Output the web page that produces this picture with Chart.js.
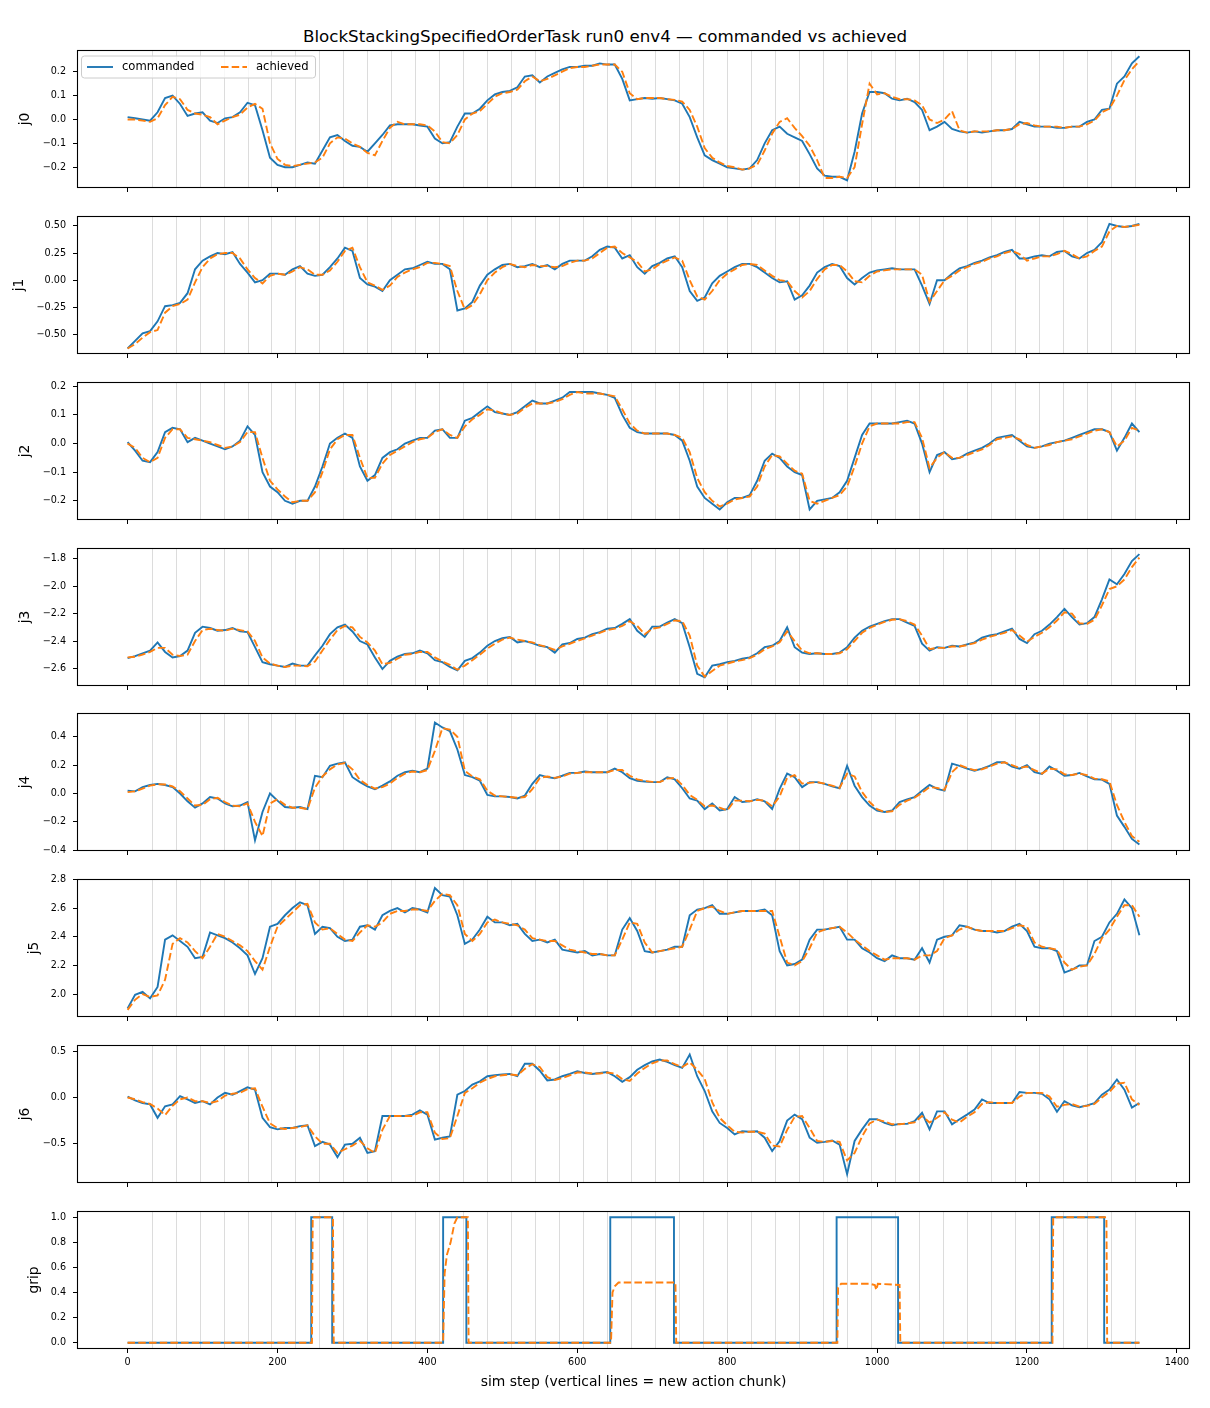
<!DOCTYPE html>
<html>
<head>
<meta charset="utf-8">
<script src="https://cdn.jsdelivr.net/npm/chart.js@4.4.1/dist/chart.umd.min.js"></script>
<style>
body { margin: 0; background: #fff; }
#fig { position: relative; width: 1210px; height: 1408px; background: #fff; font-family: "DejaVu Sans", sans-serif; }
#title { position: absolute; left: 0; top: 25px; width: 1210px; text-align: center; font-size: 16.7px; line-height: 22px; color: #000; }
.panel { position: absolute; left: 0; }
</style>
</head>
<body>
<div id="fig">
  <div id="title">BlockStackingSpecifiedOrderTask run0 env4 — commanded vs achieved</div>
</div>
<script>
// sim steps sampled every 10
var steps = [0,10,20,30,40,50,60,70,80,90,100,110,120,130,140,150,160,170,180,190,
  200,210,220,230,240,250,260,270,280,290,300,310,320,330,340,350,360,370,380,390,
  400,410,420,430,440,450,460,470,480,490,500,510,520,530,540,550,560,570,580,590,
  600,610,620,630,640,650,660,670,680,690,700,710,720,730,740,750,760,770,780,790,
  800,810,820,830,840,850,860,870,880,890,900,910,920,930,940,950,960,970,980,990,
  1000,1010,1020,1030,1040,1050,1060,1070,1080,1090,1100,1110,1120,1130,1140,1150,1160,1170,1180,1190,
  1200,1210,1220,1230,1240,1250,1260,1270,1280,1290,1300,1310,1320,1330,1340,1350];

// steps where a new action chunk starts
var chunkStarts = [32,64,96,128,160,192,224,256,288,320,352,384,416,448,480,512,544,576,608,640,
  672,704,736,768,800,832,864,896,928,960,992,1024,1056,1088,1120,1152,1184,1216,1248,1280,1312,1344];

var j0Cmd = [0.01,0.005,0.0,-0.005,0.03,0.09,0.1,0.065,0.015,0.025,
  0.03,-0.005,-0.015,0.005,0.01,0.03,0.07,0.06,-0.045,-0.16,
  -0.19,-0.2,-0.2,-0.19,-0.18,-0.185,-0.13,-0.075,-0.065,-0.09,
  -0.11,-0.115,-0.135,-0.1,-0.065,-0.025,-0.02,-0.02,-0.02,-0.025,
  -0.03,-0.08,-0.1,-0.095,-0.03,0.025,0.025,0.045,0.08,0.105,
  0.115,0.12,0.135,0.18,0.185,0.155,0.18,0.195,0.21,0.22,
  0.22,0.225,0.225,0.235,0.23,0.23,0.17,0.08,0.085,0.09,
  0.087,0.09,0.085,0.08,0.066,0.01,-0.075,-0.15,-0.17,-0.185,
  -0.2,-0.205,-0.21,-0.205,-0.17,-0.1,-0.045,-0.03,-0.06,-0.075,
  -0.09,-0.145,-0.205,-0.235,-0.24,-0.24,-0.255,-0.135,0.025,0.115,
  0.115,0.11,0.087,0.08,0.087,0.073,0.04,-0.045,-0.03,-0.01,
  -0.04,-0.05,-0.055,-0.05,-0.055,-0.05,-0.045,-0.045,-0.04,-0.01,
  -0.02,-0.03,-0.03,-0.03,-0.035,-0.035,-0.03,-0.03,-0.01,0.0,
  0.04,0.045,0.15,0.18,0.235,0.265];
var j0Ach = [0.0,0.0,-0.005,-0.01,0.005,0.06,0.095,0.085,0.04,0.025,
  0.02,0.01,-0.02,-0.005,0.01,0.02,0.05,0.065,0.045,-0.1,
  -0.165,-0.19,-0.195,-0.19,-0.185,-0.18,-0.16,-0.1,-0.075,-0.08,
  -0.1,-0.115,-0.14,-0.15,-0.09,-0.035,-0.01,-0.02,-0.02,-0.02,
  -0.025,-0.05,-0.095,-0.1,-0.065,0.0,0.025,0.035,0.065,0.095,
  0.11,0.115,0.125,0.16,0.18,0.16,0.17,0.185,0.2,0.215,
  0.22,0.22,0.225,0.23,0.23,0.23,0.2,0.11,0.085,0.09,
  0.09,0.09,0.085,0.082,0.075,0.04,-0.03,-0.12,-0.16,-0.18,
  -0.195,-0.2,-0.21,-0.205,-0.19,-0.13,-0.06,-0.01,0.005,-0.035,
  -0.07,-0.11,-0.17,-0.245,-0.245,-0.24,-0.245,-0.2,-0.02,0.15,
  0.105,0.11,0.095,0.085,0.085,0.08,0.06,0.0,-0.015,0.0,
  0.035,-0.045,-0.055,-0.05,-0.05,-0.05,-0.045,-0.045,-0.04,-0.02,
  -0.015,-0.025,-0.03,-0.03,-0.03,-0.035,-0.03,-0.03,-0.02,-0.005,
  0.03,0.045,0.1,0.165,0.21,0.245];

var j1Cmd = [-0.63,-0.56,-0.49,-0.47,-0.38,-0.24,-0.23,-0.21,-0.12,0.1,
  0.18,0.22,0.25,0.24,0.26,0.15,0.07,-0.02,0.0,0.06,
  0.06,0.05,0.1,0.13,0.06,0.04,0.05,0.12,0.2,0.3,
  0.27,0.02,-0.04,-0.06,-0.1,0.0,0.05,0.1,0.11,0.14,
  0.17,0.15,0.15,0.1,-0.28,-0.26,-0.2,-0.05,0.05,0.1,
  0.14,0.15,0.12,0.13,0.15,0.12,0.14,0.1,0.15,0.18,
  0.18,0.18,0.22,0.28,0.31,0.3,0.2,0.23,0.12,0.06,
  0.13,0.16,0.2,0.22,0.12,-0.1,-0.19,-0.16,-0.03,0.04,
  0.08,0.12,0.15,0.15,0.12,0.07,0.02,-0.02,-0.01,-0.18,
  -0.14,-0.05,0.07,0.12,0.15,0.13,0.02,-0.04,0.02,0.07,
  0.09,0.1,0.11,0.1,0.1,0.1,-0.05,-0.22,0.0,0.0,
  0.06,0.11,0.13,0.16,0.18,0.21,0.23,0.26,0.28,0.2,
  0.2,0.22,0.23,0.22,0.26,0.27,0.22,0.2,0.25,0.28,
  0.35,0.52,0.5,0.49,0.5,0.52];
var j1Ach = [-0.63,-0.59,-0.53,-0.48,-0.46,-0.3,-0.24,-0.22,-0.18,-0.02,
  0.12,0.2,0.24,0.25,0.25,0.2,0.1,0.02,-0.03,0.04,
  0.06,0.05,0.08,0.12,0.1,0.05,0.05,0.09,0.17,0.27,
  0.3,0.12,-0.02,-0.05,-0.09,-0.05,0.03,0.07,0.1,0.12,
  0.16,0.16,0.15,0.13,-0.1,-0.27,-0.23,-0.13,0.0,0.07,
  0.12,0.15,0.13,0.12,0.14,0.13,0.13,0.12,0.13,0.16,
  0.18,0.18,0.2,0.25,0.3,0.31,0.25,0.21,0.17,0.08,
  0.1,0.15,0.18,0.21,0.18,0.0,-0.15,-0.18,-0.1,0.0,
  0.06,0.1,0.14,0.15,0.14,0.09,0.04,0.0,-0.01,-0.1,
  -0.16,-0.1,0.01,0.1,0.14,0.14,0.08,-0.01,-0.02,0.04,
  0.08,0.09,0.1,0.1,0.1,0.1,0.05,-0.2,-0.1,0.0,
  0.04,0.09,0.12,0.15,0.17,0.2,0.22,0.25,0.27,0.24,
  0.18,0.2,0.22,0.22,0.24,0.27,0.24,0.2,0.22,0.27,
  0.31,0.45,0.5,0.49,0.5,0.51];

var j2Cmd = [0.005,-0.025,-0.06,-0.065,-0.03,0.04,0.055,0.05,0.005,0.02,
  0.01,0.0,-0.01,-0.02,-0.01,0.01,0.06,0.03,-0.1,-0.15,
  -0.17,-0.2,-0.21,-0.2,-0.2,-0.15,-0.08,0.0,0.02,0.035,
  0.02,-0.08,-0.13,-0.11,-0.05,-0.03,-0.02,0.0,0.01,0.02,
  0.02,0.045,0.05,0.02,0.02,0.08,0.09,0.11,0.13,0.11,
  0.105,0.1,0.11,0.13,0.15,0.14,0.14,0.15,0.16,0.18,
  0.18,0.18,0.18,0.175,0.17,0.16,0.1,0.055,0.04,0.035,
  0.035,0.035,0.035,0.03,0.01,-0.06,-0.15,-0.19,-0.21,-0.23,
  -0.205,-0.19,-0.19,-0.18,-0.13,-0.06,-0.035,-0.05,-0.08,-0.1,
  -0.11,-0.23,-0.2,-0.195,-0.19,-0.17,-0.13,-0.05,0.03,0.07,
  0.07,0.07,0.07,0.075,0.08,0.07,0.0,-0.1,-0.04,-0.03,
  -0.055,-0.05,-0.035,-0.025,-0.015,0.0,0.02,0.025,0.03,0.01,
  -0.01,-0.015,-0.01,0.0,0.005,0.01,0.02,0.03,0.04,0.05,
  0.05,0.04,-0.025,0.02,0.07,0.04];
var j2Ach = [0.0,-0.015,-0.05,-0.065,-0.05,0.02,0.05,0.05,0.02,0.015,
  0.01,0.005,-0.005,-0.015,-0.01,0.005,0.04,0.04,-0.05,-0.13,
  -0.16,-0.185,-0.205,-0.2,-0.2,-0.17,-0.1,-0.02,0.015,0.03,
  0.03,-0.05,-0.12,-0.12,-0.07,-0.04,-0.025,-0.01,0.005,0.015,
  0.02,0.04,0.05,0.03,0.02,0.06,0.085,0.1,0.12,0.115,
  0.105,0.1,0.105,0.125,0.14,0.14,0.14,0.145,0.155,0.17,
  0.18,0.175,0.175,0.175,0.17,0.165,0.12,0.07,0.045,0.035,
  0.035,0.035,0.035,0.03,0.02,-0.03,-0.12,-0.17,-0.2,-0.22,
  -0.21,-0.195,-0.19,-0.185,-0.15,-0.08,-0.04,-0.045,-0.07,-0.095,
  -0.105,-0.2,-0.21,-0.2,-0.19,-0.18,-0.15,-0.08,0.0,0.06,
  0.07,0.07,0.07,0.07,0.075,0.075,0.02,-0.085,-0.05,-0.03,
  -0.05,-0.05,-0.04,-0.03,-0.02,-0.005,0.015,0.02,0.025,0.015,
  -0.005,-0.015,-0.01,-0.005,0.005,0.01,0.015,0.025,0.035,0.045,
  0.05,0.04,-0.01,0.01,0.055,0.045];

var j3Cmd = [-2.525,-2.51,-2.49,-2.47,-2.41,-2.48,-2.52,-2.51,-2.47,-2.34,
  -2.295,-2.305,-2.325,-2.32,-2.305,-2.33,-2.335,-2.445,-2.555,-2.57,
  -2.58,-2.59,-2.565,-2.58,-2.58,-2.505,-2.435,-2.35,-2.3,-2.28,
  -2.33,-2.4,-2.425,-2.52,-2.605,-2.545,-2.515,-2.495,-2.49,-2.47,
  -2.49,-2.54,-2.555,-2.59,-2.615,-2.545,-2.525,-2.485,-2.435,-2.4,
  -2.38,-2.37,-2.41,-2.4,-2.415,-2.435,-2.445,-2.485,-2.425,-2.415,
  -2.385,-2.375,-2.35,-2.335,-2.31,-2.305,-2.275,-2.24,-2.325,-2.37,
  -2.295,-2.295,-2.265,-2.24,-2.27,-2.445,-2.64,-2.665,-2.58,-2.57,
  -2.555,-2.545,-2.53,-2.52,-2.49,-2.445,-2.435,-2.4,-2.3,-2.445,
  -2.485,-2.495,-2.49,-2.495,-2.495,-2.485,-2.445,-2.375,-2.325,-2.295,
  -2.275,-2.255,-2.24,-2.24,-2.265,-2.29,-2.42,-2.47,-2.445,-2.45,
  -2.435,-2.44,-2.425,-2.41,-2.375,-2.36,-2.35,-2.33,-2.31,-2.385,
  -2.415,-2.35,-2.325,-2.28,-2.225,-2.165,-2.225,-2.28,-2.27,-2.225,
  -2.095,-1.95,-1.985,-1.91,-1.815,-1.765];
var j3Ach = [-2.52,-2.515,-2.5,-2.48,-2.45,-2.45,-2.5,-2.51,-2.5,-2.4,
  -2.32,-2.31,-2.32,-2.325,-2.31,-2.32,-2.33,-2.4,-2.52,-2.565,
  -2.58,-2.59,-2.58,-2.58,-2.585,-2.55,-2.47,-2.39,-2.32,-2.29,
  -2.3,-2.37,-2.41,-2.47,-2.57,-2.56,-2.53,-2.5,-2.495,-2.48,
  -2.48,-2.52,-2.55,-2.575,-2.61,-2.58,-2.54,-2.5,-2.455,-2.42,
  -2.39,-2.375,-2.39,-2.4,-2.41,-2.43,-2.445,-2.465,-2.44,-2.42,
  -2.4,-2.38,-2.36,-2.34,-2.32,-2.31,-2.29,-2.255,-2.29,-2.35,
  -2.31,-2.3,-2.275,-2.25,-2.255,-2.36,-2.58,-2.66,-2.62,-2.58,
  -2.565,-2.55,-2.54,-2.525,-2.5,-2.46,-2.44,-2.41,-2.33,-2.4,
  -2.47,-2.49,-2.49,-2.495,-2.495,-2.49,-2.46,-2.4,-2.34,-2.305,
  -2.28,-2.26,-2.245,-2.24,-2.255,-2.28,-2.36,-2.46,-2.45,-2.45,
  -2.44,-2.44,-2.43,-2.415,-2.39,-2.37,-2.355,-2.34,-2.32,-2.36,
  -2.405,-2.37,-2.34,-2.3,-2.25,-2.19,-2.2,-2.27,-2.275,-2.245,
  -2.14,-2.02,-2.0,-1.95,-1.86,-1.79];

var j4Cmd = [0.02,0.015,0.045,0.06,0.068,0.06,0.045,0.0,-0.055,-0.1,
  -0.07,-0.025,-0.035,-0.07,-0.09,-0.085,-0.06,-0.33,-0.13,0.0,
  -0.05,-0.095,-0.1,-0.095,-0.11,0.125,0.115,0.195,0.21,0.22,
  0.115,0.08,0.05,0.03,0.055,0.085,0.125,0.15,0.16,0.15,
  0.175,0.5,0.465,0.44,0.31,0.13,0.115,0.09,-0.01,-0.02,
  -0.02,-0.025,-0.035,-0.015,0.068,0.13,0.115,0.108,0.125,0.145,
  0.145,0.155,0.15,0.15,0.15,0.175,0.15,0.108,0.09,0.085,
  0.08,0.08,0.115,0.1,0.037,-0.035,-0.05,-0.11,-0.07,-0.12,
  -0.11,-0.025,-0.06,-0.055,-0.04,-0.055,-0.11,0.033,0.14,0.115,
  0.045,0.08,0.08,0.068,0.05,0.037,0.195,0.055,-0.025,-0.085,
  -0.12,-0.13,-0.12,-0.06,-0.042,-0.025,0.02,0.06,0.033,0.02,
  0.21,0.195,0.175,0.16,0.175,0.195,0.22,0.22,0.19,0.175,
  0.2,0.15,0.138,0.19,0.16,0.125,0.13,0.145,0.12,0.1,
  0.098,0.068,-0.155,-0.235,-0.32,-0.36];
var j4Ach = [0.01,0.015,0.035,0.055,0.065,0.063,0.05,0.015,-0.035,-0.085,
  -0.08,-0.04,-0.03,-0.06,-0.085,-0.09,-0.07,-0.2,-0.3,-0.07,
  -0.04,-0.08,-0.1,-0.1,-0.11,0.04,0.12,0.17,0.205,0.215,
  0.17,0.095,0.06,0.035,0.045,0.07,0.11,0.14,0.155,0.15,
  0.165,0.3,0.46,0.45,0.4,0.16,0.12,0.1,0.02,-0.015,
  -0.02,-0.025,-0.03,-0.025,0.03,0.11,0.12,0.11,0.12,0.14,
  0.145,0.15,0.15,0.15,0.15,0.165,0.165,0.125,0.1,0.088,
  0.082,0.08,0.105,0.11,0.06,-0.01,-0.045,-0.09,-0.085,-0.1,
  -0.12,-0.05,-0.05,-0.055,-0.045,-0.05,-0.09,-0.02,0.11,0.13,
  0.07,0.075,0.08,0.07,0.055,0.04,0.14,0.12,0.01,-0.06,
  -0.11,-0.13,-0.125,-0.08,-0.05,-0.03,0.005,0.045,0.04,0.025,
  0.15,0.2,0.18,0.165,0.17,0.19,0.21,0.22,0.2,0.18,
  0.19,0.165,0.14,0.175,0.17,0.135,0.13,0.14,0.13,0.105,
  0.1,0.085,-0.08,-0.2,-0.3,-0.34];

var j5Cmd = [1.9,1.995,2.015,1.97,2.05,2.38,2.41,2.37,2.33,2.25,
  2.26,2.43,2.41,2.39,2.36,2.32,2.27,2.14,2.25,2.47,
  2.49,2.55,2.6,2.64,2.62,2.42,2.47,2.46,2.4,2.37,
  2.38,2.47,2.48,2.45,2.55,2.58,2.6,2.57,2.6,2.59,
  2.57,2.74,2.69,2.68,2.55,2.35,2.38,2.45,2.54,2.5,
  2.5,2.48,2.49,2.42,2.37,2.38,2.36,2.38,2.31,2.3,
  2.29,2.3,2.27,2.28,2.27,2.27,2.45,2.53,2.44,2.3,
  2.29,2.3,2.31,2.33,2.33,2.55,2.59,2.6,2.62,2.56,
  2.56,2.57,2.58,2.58,2.58,2.59,2.55,2.3,2.2,2.21,
  2.24,2.38,2.45,2.45,2.46,2.47,2.38,2.38,2.32,2.29,
  2.25,2.23,2.27,2.25,2.25,2.24,2.32,2.22,2.38,2.4,
  2.41,2.48,2.47,2.45,2.44,2.44,2.43,2.44,2.47,2.49,
  2.44,2.33,2.32,2.32,2.3,2.15,2.17,2.2,2.2,2.37,
  2.4,2.5,2.56,2.66,2.6,2.41];
var j5Ach = [1.89,1.96,2.0,1.98,1.99,2.1,2.35,2.39,2.36,2.3,
  2.25,2.33,2.42,2.4,2.37,2.34,2.3,2.23,2.17,2.33,
  2.47,2.52,2.57,2.62,2.63,2.5,2.45,2.46,2.42,2.38,
  2.37,2.43,2.48,2.47,2.5,2.56,2.58,2.58,2.59,2.59,
  2.58,2.65,2.7,2.69,2.62,2.42,2.37,2.42,2.5,2.52,
  2.5,2.49,2.48,2.45,2.39,2.38,2.37,2.37,2.34,2.31,
  2.3,2.29,2.28,2.28,2.27,2.27,2.38,2.5,2.49,2.36,
  2.29,2.3,2.31,2.32,2.33,2.45,2.58,2.6,2.61,2.58,
  2.56,2.57,2.58,2.58,2.58,2.58,2.58,2.4,2.22,2.2,
  2.23,2.32,2.43,2.45,2.46,2.47,2.43,2.38,2.34,2.3,
  2.27,2.24,2.25,2.25,2.25,2.24,2.27,2.27,2.3,2.39,
  2.41,2.45,2.47,2.45,2.44,2.44,2.44,2.44,2.46,2.48,
  2.47,2.36,2.33,2.32,2.31,2.22,2.17,2.19,2.2,2.28,
  2.39,2.45,2.54,2.62,2.62,2.54];

var j6Cmd = [0.01,-0.03,-0.06,-0.075,-0.22,-0.095,-0.075,0.015,-0.02,-0.06,
  -0.04,-0.075,0.0,0.05,0.03,0.07,0.11,0.085,-0.22,-0.32,
  -0.345,-0.33,-0.33,-0.31,-0.3,-0.525,-0.48,-0.51,-0.645,-0.51,
  -0.5,-0.435,-0.6,-0.58,-0.2,-0.2,-0.2,-0.2,-0.185,-0.14,
  -0.185,-0.455,-0.435,-0.42,0.03,0.07,0.14,0.175,0.23,0.24,
  0.25,0.255,0.23,0.365,0.365,0.29,0.185,0.195,0.23,0.255,
  0.285,0.265,0.255,0.265,0.275,0.23,0.17,0.22,0.3,0.35,
  0.39,0.41,0.385,0.35,0.32,0.465,0.23,0.07,-0.15,-0.275,
  -0.33,-0.4,-0.365,-0.37,-0.365,-0.435,-0.58,-0.47,-0.25,-0.185,
  -0.235,-0.435,-0.49,-0.48,-0.465,-0.51,-0.83,-0.47,-0.345,-0.235,
  -0.235,-0.275,-0.3,-0.285,-0.285,-0.255,-0.165,-0.345,-0.15,-0.15,
  -0.29,-0.235,-0.185,-0.13,-0.02,-0.06,-0.06,-0.06,-0.06,0.06,
  0.05,0.05,0.04,-0.02,-0.155,-0.04,-0.085,-0.105,-0.085,-0.06,
  0.03,0.085,0.195,0.085,-0.11,-0.06];
var j6Ach = [0.0,-0.02,-0.05,-0.07,-0.12,-0.19,-0.09,-0.02,0.0,-0.04,
  -0.04,-0.06,-0.04,0.02,0.04,0.05,0.09,0.1,-0.1,-0.28,
  -0.33,-0.34,-0.33,-0.32,-0.3,-0.42,-0.5,-0.5,-0.6,-0.56,
  -0.52,-0.47,-0.55,-0.6,-0.35,-0.2,-0.2,-0.2,-0.2,-0.16,
  -0.16,-0.38,-0.45,-0.44,-0.2,0.05,0.1,0.16,0.2,0.23,
  0.24,0.25,0.24,0.31,0.36,0.33,0.22,0.19,0.21,0.24,
  0.27,0.27,0.26,0.26,0.27,0.26,0.2,0.18,0.26,0.32,
  0.37,0.4,0.4,0.36,0.33,0.38,0.3,0.2,-0.05,-0.22,
  -0.3,-0.37,-0.38,-0.37,-0.37,-0.39,-0.52,-0.53,-0.35,-0.21,
  -0.2,-0.33,-0.47,-0.48,-0.47,-0.48,-0.68,-0.6,-0.42,-0.28,
  -0.24,-0.26,-0.29,-0.29,-0.28,-0.27,-0.2,-0.27,-0.22,-0.16,
  -0.24,-0.27,-0.21,-0.16,-0.07,-0.05,-0.06,-0.06,-0.06,0.01,
  0.05,0.05,0.05,0.01,-0.1,-0.08,-0.07,-0.1,-0.09,-0.07,
  0.0,0.06,0.15,0.16,-0.02,-0.08];

// gripper: breakpoints of the step signal
var gripCmdSteps = [0,245,245,273,273,421,421,452,452,644,644,729,729,946,946,1028,1028,1233,1233,1303,1303,1350];
var gripCmdVals  = [0,0,1,1,0,0,1,1,0,0,1,1,0,0,1,1,0,0,1,1,0,0];
var gripAchSteps = [0,246,247,274,275,421,423,426,431,436,440,454,455,645,647,650,655,731,732,947,948,952,990,997,999,1001,1030,1031,1234,1235,1306,1307,1350];
var gripAchVals  = [0,0,1,1,0,0,0.55,0.7,0.8,0.95,1,1,0,0,0.4,0.45,0.48,0.48,0,0,0.44,0.47,0.47,0.46,0.42,0.47,0.46,0,0,1,1,0,0];

var jointLabels = ['j0','j1','j2','j3','j4','j5','j6','grip'];

Chart.defaults.font.family = "'DejaVu Sans', sans-serif";
Chart.defaults.color = '#000';

function pairs(xs, ys) {
  var out = [];
  for (var i = 0; i < xs.length; i++) out.push({x: xs[i], y: ys[i]});
  return out;
}

function fmt(v, dec) {
  var s = Number(v).toFixed(dec);
  if (Number(s) < 0) s = '\u2212' + s.slice(1);
  return s;
}

var chunkLines = {
  id: 'chunkLines',
  beforeDatasetsDraw: function(chart) {
    var ctx = chart.ctx, a = chart.chartArea, x = chart.scales.x;
    ctx.save();
    ctx.strokeStyle = 'rgba(128,128,128,0.28)';
    ctx.lineWidth = 1;
    chunkStarts.forEach(function(s) {
      var px = Math.round(x.getPixelForValue(s)) + 0.5;
      ctx.beginPath();
      ctx.moveTo(px, a.top);
      ctx.lineTo(px, a.bottom);
      ctx.stroke();
    });
    ctx.restore();
  }
};

var frame = {
  id: 'frame',
  afterDatasetsDraw: function(chart) {
    var ctx = chart.ctx, a = chart.chartArea;
    ctx.save();
    ctx.strokeStyle = '#000';
    ctx.lineWidth = 1.1;
    ctx.strokeRect(a.left + 0.5, a.top + 0.5, a.right - a.left - 1, a.bottom - a.top - 1);
    ctx.restore();
  }
};

var innerLegend = {
  id: 'innerLegend',
  afterDraw: function(chart, args, opts) {
    if (!opts.show) return;
    var ctx = chart.ctx, a = chart.chartArea;
    var bx = a.left + 4.5, by = a.top + 6, bw = 234, bh = 22;
    ctx.save();
    ctx.fillStyle = 'rgba(255,255,255,0.8)';
    ctx.strokeStyle = '#cccccc';
    ctx.lineWidth = 1;
    ctx.beginPath();
    if (ctx.roundRect) ctx.roundRect(bx, by, bw, bh, 3); else ctx.rect(bx, by, bw, bh);
    ctx.fill();
    ctx.stroke();
    var ym = by + 11;
    var items = [
      {ds: chart.data.datasets[0], x0: a.left + 10, tx: a.left + 45},
      {ds: chart.data.datasets[1], x0: a.left + 144, tx: a.left + 179}
    ];
    ctx.font = "11.6px 'DejaVu Sans', sans-serif";
    ctx.textBaseline = 'middle';
    items.forEach(function(it) {
      ctx.strokeStyle = it.ds.borderColor;
      ctx.lineWidth = it.ds.borderWidth;
      ctx.setLineDash(it.ds.borderDash || []);
      ctx.beginPath();
      ctx.moveTo(it.x0, ym);
      ctx.lineTo(it.x0 + 26, ym);
      ctx.stroke();
      ctx.setLineDash([]);
      ctx.fillStyle = '#000';
      ctx.fillText(it.ds.label, it.tx, ym);
    });
    ctx.restore();
  }
};

// panel layout: y range, tick step, decimals, y-label centre
var panels = [
  {cmd: pairs(steps, j0Cmd), ach: pairs(steps, j0Ach), min: -0.287, max: 0.291, step: 0.1, dec: 1, lx: 25.5},
  {cmd: pairs(steps, j1Cmd), ach: pairs(steps, j1Ach), min: -0.681, max: 0.592, step: 0.25, dec: 2, lx: 19.5},
  {cmd: pairs(steps, j2Cmd), ach: pairs(steps, j2Ach), min: -0.267, max: 0.215, step: 0.1, dec: 1, lx: 25.5},
  {cmd: pairs(steps, j3Cmd), ach: pairs(steps, j3Ach), min: -2.729, max: -1.72, step: 0.2, dec: 1, lx: 25.5},
  {cmd: pairs(steps, j4Cmd), ach: pairs(steps, j4Ach), min: -0.405, max: 0.567, step: 0.2, dec: 1, lx: 25.5},
  {cmd: pairs(steps, j5Cmd), ach: pairs(steps, j5Ach), min: 1.84, max: 2.803, step: 0.2, dec: 1, lx: 34.5},
  {cmd: pairs(steps, j6Cmd), ach: pairs(steps, j6Ach), min: -0.925, max: 0.568, step: 0.5, dec: 1, lx: 25.5},
  {cmd: pairs(gripCmdSteps, gripCmdVals), ach: pairs(gripAchSteps, gripAchVals), min: -0.05, max: 1.05, step: 0.2, dec: 1, lx: 34.5}
];

var tops = [50, 216, 382, 548, 713, 879, 1045, 1211];
var plotH = 138;
var fig = document.getElementById('fig');

panels.forEach(function(p, i) {
  var isBottom = (i === panels.length - 1);
  var xh = isBottom ? 50 : 6;
  var div = document.createElement('div');
  div.className = 'panel';
  div.style.top = (tops[i] - 10) + 'px';
  var cv = document.createElement('canvas');
  cv.width = 1210;
  cv.height = 10 + plotH + xh;
  div.appendChild(cv);
  fig.appendChild(div);

  new Chart(cv.getContext('2d'), {
    type: 'line',
    data: {
      datasets: [
        {label: 'commanded', data: p.cmd, borderColor: '#1f77b4', borderWidth: 1.9,
         pointRadius: 0, tension: 0, fill: false, order: 1},
        {label: 'achieved', data: p.ach, borderColor: '#ff7f0e', borderWidth: 1.9,
         borderDash: [7.5, 3.2], pointRadius: 0, tension: 0, fill: false, order: 0}
      ]
    },
    options: {
      responsive: false,
      animation: false,
      devicePixelRatio: 1,
      layout: {padding: {left: 0, right: 20, top: 10, bottom: 0}},
      plugins: {
        legend: {display: false},
        tooltip: {enabled: false},
        innerLegend: {show: i === 0}
      },
      scales: {
        x: {
          type: 'linear',
          min: -67.5,
          max: 1417.5,
          afterFit: function(s) { s.height = xh; s.paddingLeft = 0; s.paddingRight = 0; },
          border: {display: false},
          grid: {drawOnChartArea: false, drawTicks: true, tickLength: 4, color: '#000', lineWidth: 1},
          ticks: {display: isBottom, stepSize: 200, includeBounds: false, autoSkip: false,
                  maxRotation: 0, padding: 4, font: {size: 9.65}, color: '#000',
                  callback: function(v) { return String(v); }},
          title: {display: isBottom, text: 'sim step (vertical lines = new action chunk)',
                  font: {size: 13.9}, color: '#000', padding: {top: 0, bottom: 8.5}}
        },
        y: {
          type: 'linear',
          min: p.min,
          max: p.max,
          afterFit: function(s) { s.width = 77; s.paddingTop = 0; s.paddingBottom = 0; },
          border: {display: false},
          grid: {drawOnChartArea: false, drawTicks: true, tickLength: 4, color: '#000', lineWidth: 1},
          ticks: {stepSize: p.step, includeBounds: false, autoSkip: false, padding: 7,
                  font: {size: 9.65}, color: '#000',
                  callback: function(v) { return fmt(v, p.dec); }},
          title: {display: true, text: jointLabels[i], font: {size: 13.9}, color: '#000',
                  padding: {top: p.lx - 8.3, bottom: 0}}
        }
      }
    },
    plugins: [chunkLines, frame, innerLegend]
  });
});
</script>
</body>
</html>
